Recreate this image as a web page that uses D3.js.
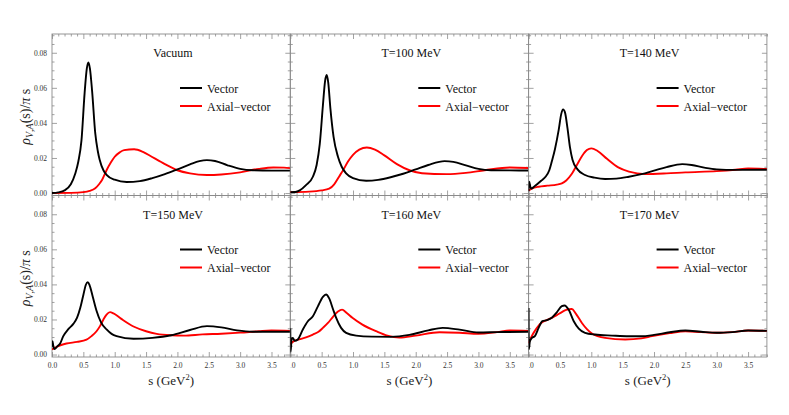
<!DOCTYPE html>
<html>
<head>
<meta charset="utf-8">
<script src="https://cdn.jsdelivr.net/npm/d3@7"></script>
<style>
  html, body { margin: 0; padding: 0; background: #fff; }
  svg { display: block; }
  text { font-family: "Liberation Serif", "DejaVu Serif", serif; }
</style>
</head>
<body>
<svg id="chart" width="789" height="415"></svg>
<script>
// ---------- data (s in GeV^2, value of rho/(pi s)) ----------
const panelTitles = ["Vacuum", "T=100 MeV", "T=140 MeV", "T=150 MeV", "T=160 MeV", "T=170 MeV"];
const seriesNames = ["Vector", "Axial\u2212vector"];
const xTickValues = [0, 0.5, 1.0, 1.5, 2.0, 2.5, 3.0, 3.5];
const yTickValues = [0, 0.02, 0.04, 0.06, 0.08];

const vacuumVector = [[0,0],[0.1,0.0004],[0.2,0.0015],[0.3,0.005],[0.37,0.011],[0.42,0.018],[0.47,0.030],[0.52,0.057],[0.555,0.071],[0.58,0.0745],[0.605,0.071],[0.64,0.058],[0.69,0.034],[0.73,0.024],[0.76,0.019],[0.82,0.013],[0.87,0.0104],[1.0,0.0076],[1.19,0.0063],[1.4,0.0068],[1.6,0.0085],[1.8,0.0108],[2.0,0.0135],[2.2,0.0163],[2.35,0.0182],[2.47,0.0188],[2.6,0.0183],[2.8,0.0158],[3.0,0.0138],[3.2,0.013],[3.5,0.0128],[3.8,0.0128]];
const vacuumAxial = [[0,0],[0.3,0.0001],[0.5,0.0005],[0.6,0.0012],[0.69,0.0027],[0.75,0.005],[0.8,0.0076],[0.87,0.013],[0.94,0.0175],[1.0,0.0207],[1.08,0.0232],[1.15,0.0245],[1.31,0.025],[1.45,0.0235],[1.59,0.0207],[1.7,0.0185],[1.8,0.0165],[2.0,0.013],[2.2,0.0112],[2.47,0.0103],[2.7,0.0106],[3.0,0.0118],[3.3,0.0138],[3.53,0.0146],[3.7,0.0145],[3.8,0.0142]];

const t100Vector = [[0,0.0005],[0.08,0.0006],[0.15,0.0015],[0.25,0.0045],[0.36,0.0093],[0.42,0.016],[0.47,0.028],[0.52,0.05],[0.555,0.064],[0.58,0.0673],[0.605,0.063],[0.64,0.048],[0.69,0.032],[0.76,0.0207],[0.82,0.015],[0.89,0.0112],[1.0,0.0085],[1.21,0.007],[1.4,0.0075],[1.6,0.009],[1.8,0.011],[2.0,0.0135],[2.2,0.016],[2.46,0.0182],[2.6,0.0178],[2.8,0.0158],[3.0,0.0138],[3.2,0.013],[3.5,0.0129],[3.8,0.0129]];
const t100Axial = [[0,0.0005],[0.3,0.0008],[0.5,0.0015],[0.62,0.0025],[0.7,0.005],[0.78,0.0095],[0.85,0.0135],[0.92,0.018],[1.0,0.0218],[1.1,0.0248],[1.22,0.026],[1.35,0.0248],[1.5,0.0215],[1.7,0.0165],[1.9,0.013],[2.1,0.0113],[2.49,0.0108],[2.8,0.0115],[3.1,0.013],[3.5,0.0146],[3.8,0.0143]];

const t140Vector = [[0,0.001],[0.01,0.0065],[0.025,0.004],[0.04,0.0025],[0.1,0.004],[0.2,0.007],[0.27,0.0093],[0.33,0.013],[0.37,0.018],[0.42,0.025],[0.48,0.036],[0.52,0.045],[0.55,0.0477],[0.58,0.046],[0.62,0.037],[0.66,0.026],[0.7,0.019],[0.78,0.0135],[0.9,0.0103],[1.05,0.0088],[1.22,0.008],[1.4,0.0082],[1.6,0.0093],[1.8,0.0108],[2.0,0.0128],[2.2,0.0148],[2.45,0.0165],[2.6,0.016],[2.8,0.0145],[3.0,0.0135],[3.3,0.0132],[3.8,0.0133]];
const t140Axial = [[0,0.0015],[0.05,0.0025],[0.16,0.0036],[0.3,0.0042],[0.45,0.0048],[0.53,0.0055],[0.6,0.0072],[0.69,0.011],[0.77,0.016],[0.85,0.021],[0.93,0.0245],[1.0,0.0255],[1.1,0.024],[1.25,0.0195],[1.43,0.0146],[1.6,0.0122],[1.86,0.0108],[2.2,0.0112],[2.5,0.0118],[3.0,0.0125],[3.3,0.0133],[3.5,0.014],[3.8,0.0137]];

const t150Vector = [[0,0.0045],[0.008,0.0076],[0.02,0.005],[0.04,0.0032],[0.08,0.0045],[0.13,0.0063],[0.18,0.0105],[0.26,0.0145],[0.34,0.0175],[0.4,0.021],[0.45,0.0265],[0.5,0.034],[0.54,0.0398],[0.57,0.0413],[0.6,0.0395],[0.65,0.033],[0.71,0.025],[0.78,0.0185],[0.87,0.0143],[0.95,0.0118],[1.03,0.0105],[1.3,0.009],[1.6,0.0095],[1.9,0.011],[2.2,0.014],[2.47,0.0162],[2.7,0.0155],[2.95,0.0138],[3.2,0.013],[3.8,0.013]];
const t150Axial = [[0,0.0029],[0.1,0.0048],[0.23,0.0063],[0.4,0.0072],[0.55,0.0085],[0.63,0.0105],[0.71,0.0133],[0.77,0.0165],[0.82,0.02],[0.87,0.0228],[0.925,0.0242],[0.98,0.0235],[1.1,0.0205],[1.3,0.016],[1.5,0.0133],[1.67,0.0118],[1.9,0.011],[2.1,0.0108],[2.4,0.0115],[2.7,0.0119],[3.0,0.0125],[3.3,0.0133],[3.5,0.0137],[3.8,0.0135]];

const t160Vector = [[0,0.015],[0.005,0.0015],[0.02,0.0085],[0.04,0.0095],[0.07,0.0078],[0.12,0.0086],[0.2,0.0143],[0.28,0.019],[0.36,0.0218],[0.44,0.0275],[0.52,0.0329],[0.57,0.0342],[0.62,0.032],[0.68,0.026],[0.73,0.021],[0.81,0.0152],[0.89,0.0124],[1.05,0.0108],[1.3,0.0102],[1.6,0.0101],[1.9,0.0112],[2.2,0.0138],[2.43,0.0152],[2.7,0.0142],[3.0,0.0126],[3.3,0.0128],[3.8,0.013]];
const t160Axial = [[0,0.006],[0.05,0.0075],[0.14,0.0086],[0.25,0.0098],[0.36,0.0114],[0.45,0.013],[0.52,0.0152],[0.6,0.018],[0.68,0.0215],[0.76,0.0245],[0.825,0.0256],[0.9,0.0237],[0.99,0.021],[1.15,0.0171],[1.37,0.0133],[1.55,0.0108],[1.74,0.0097],[2.0,0.0108],[2.38,0.0127],[2.7,0.0124],[3.0,0.0118],[3.3,0.0128],[3.5,0.0137],[3.8,0.0135]];

const t170Vector = [[0,0.0266],[0.004,0.003],[0.02,0.0075],[0.053,0.0095],[0.1,0.0105],[0.16,0.0152],[0.22,0.019],[0.29,0.0196],[0.37,0.021],[0.45,0.0241],[0.53,0.0276],[0.574,0.028],[0.64,0.0255],[0.72,0.019],[0.8,0.0148],[0.9,0.0124],[1.06,0.0114],[1.33,0.0108],[1.6,0.0104],[1.8,0.0104],[2.0,0.0112],[2.25,0.0127],[2.5,0.0137],[2.75,0.013],[3.0,0.0124],[3.25,0.0128],[3.5,0.0137],[3.8,0.0135]];
const t170Axial = [[0,0.0065],[0.05,0.0105],[0.1,0.0135],[0.2,0.018],[0.28,0.0195],[0.37,0.0209],[0.45,0.0225],[0.53,0.0242],[0.6,0.0255],[0.69,0.026],[0.75,0.0235],[0.85,0.018],[0.93,0.0145],[1.01,0.012],[1.22,0.0095],[1.54,0.0086],[1.8,0.0092],[1.97,0.0105],[2.25,0.0122],[2.5,0.0133],[2.75,0.0128],[3.0,0.0124],[3.25,0.0128],[3.5,0.0137],[3.8,0.0135]];

const vectorSeries = [vacuumVector, t100Vector, t140Vector, t150Vector, t160Vector, t170Vector];
const axialSeries = [vacuumAxial, t100Axial, t140Axial, t150Axial, t160Axial, t170Axial];

// ---------- layout ----------
const svg = d3.select("#chart");
const W = 238.3, H = 161.5;
const left0 = 52, top0 = 34;
const frameColor = "#8a8a8a", tickColor = "#8a8a8a", labelColor = "#333";

const x = d3.scaleLinear().domain([0, 3.8]).range([0, W]);
const y = d3.scaleLinear().domain([-0.0014, 0.0907]).range([H, 0]);

const xMinor = d3.range(0, 3.81, 0.1).map(v => +v.toFixed(2)).filter(v => !xTickValues.some(t => Math.abs(t - v) < 1e-6));
const yMinor = d3.range(0, 0.0906, 0.005).map(v => +v.toFixed(4)).filter(v => !yTickValues.some(t => Math.abs(t - v) < 1e-9));

const line = d3.line().x(d => x(d[0])).y(d => y(d[1])).curve(d3.curveMonotoneX);

const defs = svg.append("defs");

panelTitles.forEach((title, i) => {
  const col = i % 3, row = Math.floor(i / 3);
  const px = left0 + col * W, py = top0 + row * H;
  const g = svg.append("g").attr("transform", `translate(${px},${py})`);

  defs.append("clipPath").attr("id", "clip" + i)
    .append("rect").attr("x", 0).attr("y", 0).attr("width", W).attr("height", H);
  defs.append("clipPath").attr("id", "lclip" + i)
    .append("rect").attr("x", col === 0 ? -20 : 0.5).attr("y", -10).attr("width", W + 20).attr("height", 40);

  function styleAxis(sel) {
    sel.select(".domain").remove();
    sel.selectAll(".tick line").attr("stroke", tickColor).attr("stroke-width", 0.8);
    sel.selectAll(".tick text").attr("fill", labelColor).style("font-size", "7.5px")
      .style("font-family", '"Liberation Serif", serif');
  }

  // minor ticks
  const minorSize = -2.5, majorSize = -5;
  g.append("g").attr("transform", `translate(0,${H})`)
    .call(d3.axisBottom(x).tickValues(xMinor).tickSize(minorSize).tickFormat(""))
    .call(styleAxis);
  g.append("g")
    .call(d3.axisTop(x).tickValues(xMinor).tickSize(minorSize).tickFormat(""))
    .call(styleAxis);
  g.append("g")
    .call(d3.axisLeft(y).tickValues(yMinor).tickSize(minorSize).tickFormat(""))
    .call(styleAxis);
  g.append("g").attr("transform", `translate(${W},0)`)
    .call(d3.axisRight(y).tickValues(yMinor).tickSize(minorSize).tickFormat(""))
    .call(styleAxis);

  // major ticks
  g.append("g").attr("transform", `translate(0,${H})`)
    .attr("clip-path", `url(#lclip${i})`)
    .call(d3.axisBottom(x).tickValues(xTickValues).tickSize(majorSize).tickPadding(6)
      .tickFormat(row === 1 ? d3.format(".1f") : ""))
    .call(styleAxis);
  g.append("g")
    .call(d3.axisTop(x).tickValues(xTickValues).tickSize(majorSize).tickFormat(""))
    .call(styleAxis);
  g.append("g")
    .call(d3.axisLeft(y).tickValues(yTickValues).tickSize(majorSize).tickPadding(5)
      .tickFormat(col === 0 ? d3.format(".2f") : ""))
    .call(styleAxis);
  g.append("g").attr("transform", `translate(${W},0)`)
    .call(d3.axisRight(y).tickValues(yTickValues).tickSize(majorSize).tickFormat(""))
    .call(styleAxis);

  // frame
  g.append("rect").attr("x", 0).attr("y", 0).attr("width", W).attr("height", H)
    .attr("fill", "none").attr("stroke", frameColor).attr("stroke-width", 0.9);

  // curves
  const cg = g.append("g").attr("clip-path", `url(#clip${i})`);
  cg.append("path").datum(axialSeries[i]).attr("d", line)
    .attr("fill", "none").attr("stroke", "#ff0000").attr("stroke-width", 1.9).attr("stroke-linejoin", "round");
  cg.append("path").datum(vectorSeries[i]).attr("d", line)
    .attr("fill", "none").attr("stroke", "#000").attr("stroke-width", 1.9).attr("stroke-linejoin", "round");

  // title
  g.append("text").attr("x", 121).attr("y", 23).attr("text-anchor", "middle")
    .style("font-size", "12px").attr("fill", "#111").text(title);

  // legend
  const legColors = ["#000", "#ff0000"];
  seriesNames.forEach((name, k) => {
    const ly = 54 + k * 18;
    g.append("line").attr("x1", 128).attr("x2", 150).attr("y1", ly).attr("y2", ly)
      .attr("stroke", legColors[k]).attr("stroke-width", 2);
    g.append("text").attr("x", 155).attr("y", ly + 4.5)
      .style("font-size", "12px").attr("fill", "#111").text(name);
  });

  // y label
  if (col === 0) {
    const yl = svg.append("text")
      .attr("transform", `translate(30,${py + H / 2 + 2}) rotate(-90)`)
      .attr("text-anchor", "middle").style("font-size", "14px").attr("fill", "#222");
    yl.append("tspan").style("font-style", "italic").text("\u03C1");
    yl.append("tspan").attr("dy", 3).style("font-size", "10px").style("font-style", "italic").text("V");
    yl.append("tspan").style("font-size", "10px").text(",");
    yl.append("tspan").style("font-size", "10px").style("font-style", "italic").text("A");
    yl.append("tspan").attr("dy", -3).text("(s)/");
    yl.append("tspan").style("font-style", "italic").text("\u03C0");
    yl.append("tspan").text(" s");
  }

  // x label
  if (row === 1) {
    const xl = svg.append("text").attr("x", px + W / 2).attr("y", 385)
      .attr("text-anchor", "middle").style("font-size", "13px").attr("fill", "#222");
    xl.append("tspan").text("s (GeV");
    xl.append("tspan").attr("dy", -5).style("font-size", "8.5px").text("2");
    xl.append("tspan").attr("dy", 5).text(")");
  }
});
</script>
</body>
</html>
